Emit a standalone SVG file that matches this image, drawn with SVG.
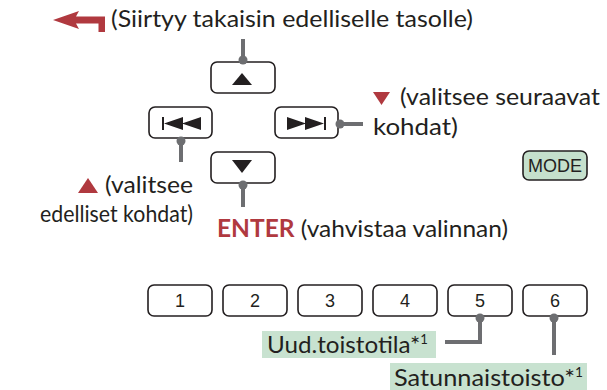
<svg xmlns="http://www.w3.org/2000/svg" width="607" height="390" viewBox="0 0 607 390">
<style>
.t{font-family:Lato,"Open Sans","Liberation Sans",sans-serif;font-size:24px;fill:#231f20}
.red{fill:#b0393f}
.btn{fill:#fff;stroke:#231f20;stroke-width:1.6}
.num{font-family:"Liberation Sans",Arial,sans-serif;font-size:18px;fill:#231f20;text-anchor:middle}
.ic{fill:#231f20}
.con{fill:none;stroke:#6d6e71;stroke-width:4}
.dot{fill:#6d6e71}
.lbl{fill:#c8e2d0}
.lt{font-family:Lato,"Open Sans","Liberation Sans",sans-serif;font-size:24px;fill:#231f20}
</style>
<rect width="607" height="390" fill="#fff"/>
<g id="back">
<path d="M53,20 L79,11 L76,16.5 L105,16.5 L105,32 L98.5,32 L98.5,23.5 L76,23.5 L79,29 Z" class="red"/>
<text class="t" x="111" y="27" textLength="362" lengthAdjust="spacingAndGlyphs">(Siirtyy takaisin edelliselle tasolle)</text>
</g>
<g id="btn-up">
<rect class="btn" x="211" y="62" width="64" height="31" rx="6"/>
<path class="ic" d="M242,73 L252,85 L232,85 Z"/>
</g>
<g id="btn-prev">
<rect class="btn" x="149" y="107" width="63" height="31" rx="6"/>
<rect class="ic" x="162" y="117" width="2" height="13"/>
<path class="ic" d="M164,123.5 L183,117 L183,130 Z M182,123.5 L201,117 L201,130 Z"/>
</g>
<g id="btn-next">
<rect class="btn" x="275" y="107" width="63" height="31" rx="6"/>
<path class="ic" d="M287,117 L306,123.5 L287,130 Z M305,117 L324,123.5 L305,130 Z"/>
<rect class="ic" x="324" y="117" width="2" height="13"/>
</g>
<g id="btn-down">
<rect class="btn" x="211" y="152" width="64" height="31" rx="6"/>
<path class="ic" d="M232,160 L252,160 L242,173 Z"/>
</g>
<g id="btn-mode">
<rect x="523" y="151" width="64" height="29" rx="6" fill="#c5e0cc" stroke="#231f20" stroke-width="1.6"/>
<text x="555" y="172" font-family="Liberation Sans,Arial,sans-serif" font-size="18" fill="#231f20" text-anchor="middle" textLength="54" lengthAdjust="spacingAndGlyphs">MODE</text>
</g>
<g id="lbl-next">
<path class="red" d="M373,92 L390,92 L381.5,105 Z"/>
<text class="t" x="400" y="105" textLength="200" lengthAdjust="spacingAndGlyphs">(valitsee seuraavat</text>
<text class="t" x="373" y="135" textLength="85" lengthAdjust="spacingAndGlyphs">kohdat)</text>
</g>
<g id="lbl-prev">
<path class="red" d="M88,178 L98,193 L78,193 Z"/>
<text class="t" x="105" y="193" textLength="88" lengthAdjust="spacingAndGlyphs">(valitsee</text>
<text class="t" x="40" y="222" textLength="153" lengthAdjust="spacingAndGlyphs">edelliset kohdat)</text>
</g>
<g id="lbl-enter">
<text class="t" x="217" y="237" textLength="291" lengthAdjust="spacingAndGlyphs"><tspan class="red" font-weight="bold">ENTER</tspan> (vahvistaa valinnan)</text>
</g>
<g id="btn-1"><rect class="btn" x="148" y="285" width="64" height="31" rx="6"/><text class="num" x="180" y="307">1</text></g>
<g id="btn-2"><rect class="btn" x="223" y="285" width="64" height="31" rx="6"/><text class="num" x="255" y="307">2</text></g>
<g id="btn-3"><rect class="btn" x="298" y="285" width="64" height="31" rx="6"/><text class="num" x="330" y="307">3</text></g>
<g id="btn-4"><rect class="btn" x="373" y="285" width="64" height="31" rx="6"/><text class="num" x="405" y="307">4</text></g>
<g id="btn-5"><rect class="btn" x="448" y="285" width="64" height="31" rx="6"/><text class="num" x="480" y="307">5</text></g>
<g id="btn-6"><rect class="btn" x="523" y="285" width="64" height="31" rx="6"/><text class="num" x="555" y="307">6</text></g>
<g id="lbl-repeat">
<rect class="lbl" x="262" y="331" width="174" height="27"/>
<text class="lt" x="267" y="353" textLength="161" lengthAdjust="spacingAndGlyphs">Uud.toistotila*<tspan font-size="13" dy="-9">1</tspan></text>
</g>
<g id="lbl-shuffle">
<rect class="lbl" x="390" y="363" width="197" height="27"/>
<text class="lt" x="394" y="386" textLength="189" lengthAdjust="spacingAndGlyphs">Satunnaistoisto*<tspan font-size="13" dy="-9">1</tspan></text>
</g>
<g id="connectors">
<path class="con" d="M243,39 L243,60"/><circle class="dot" cx="243" cy="60" r="4.5"/>
<path class="con" d="M181,141 L181,162"/><circle class="dot" cx="181" cy="141" r="4.5"/>
<path class="con" d="M340,124 L363,124"/><circle class="dot" cx="340" cy="124" r="4.5"/>
<path class="con" d="M243,185 L243,207"/><circle class="dot" cx="243" cy="185" r="4.5"/>
<path class="con" d="M480,318 L480,342 L445,342"/><circle class="dot" cx="480" cy="318" r="4.5"/>
<path class="con" d="M554,318 L554,355"/><circle class="dot" cx="554" cy="318" r="4.5"/>
</g>
</svg>
